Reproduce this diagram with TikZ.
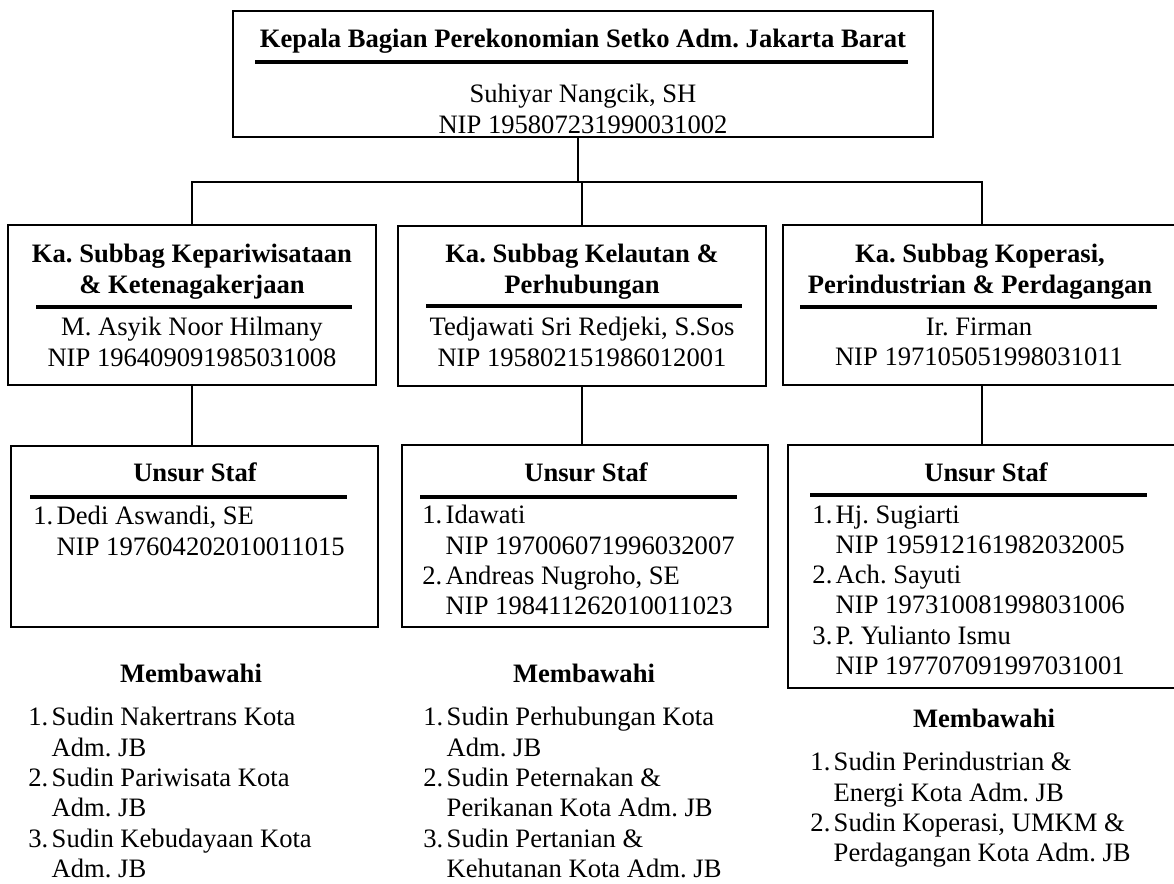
\documentclass[tikz,border=0pt]{standalone}
\usepackage{fontspec}
\setmainfont{Liberation Serif}
\usetikzlibrary{fit}
\frenchspacing
\newcommand{\teks}{\fontsize{12pt}{13.67pt}\selectfont}
\newcommand{\nomor}[1]{\makebox[10.5pt][l]{#1}}
\newcommand{\sambung}{\hspace*{10.5pt}}
\begin{document}
\begin{tikzpicture}[x=0.4511pt, y=-0.4511pt,
    kotak/.style={draw, line width=0.9pt, inner sep=0pt},
    judul/.style={font=\teks\bfseries, anchor=base},
    isi/.style={font=\teks, anchor=base},
    blok/.style={font=\teks, align=center, anchor=north, inner sep=0pt},
    blokjudul/.style={blok, font=\teks\bfseries},
    daftar/.style={font=\teks, align=left, anchor=north west, inner sep=0pt},
    garis/.style={line width=1.4pt},
    hubung/.style={line width=0.9pt}]
    \useasboundingbox (0,0) rectangle (1174,884);

    \node[kotak, fit={(233,11) (933,137)}] (kepala) {};
    \node[judul] (kepalajudul) at (583,47) {Kepala Bagian Perekonomian Setko Adm. Jakarta Barat};
    \draw[garis] (255,62) -- (908,62);
    \node[blok] (kepalanama) at (583,84) {Suhiyar Nangcik, SH\\NIP 195807231990031002};

    \node[kotak, fit={(8,225) (376,385)}] (sub1) {};
    \node[blokjudul] (sub1judul) at (192,244) {Ka. Subbag Kepariwisataan\\\& Ketenagakerjaan};
    \draw[garis] (36,307) -- (352,307);
    \node[blok] (sub1nama) at (192,317) {M. Asyik Noor Hilmany\\NIP 196409091985031008};

    \node[kotak, fit={(398,226) (766,386)}] (sub2) {};
    \node[blokjudul] (sub2judul) at (582,244) {Ka. Subbag Kelautan \&\\Perhubungan};
    \draw[garis] (426,306) -- (742,306);
    \node[blok] (sub2nama) at (582,317) {Tedjawati Sri Redjeki, S.Sos\\NIP 195802151986012001};

    \node[kotak, fit={(783,225) (1180,385)}] (sub3) {};
    \node[blokjudul] (sub3judul) at (980,244) {Ka. Subbag Koperasi,\\Perindustrian \& Perdagangan};
    \draw[garis] (800,307) -- (1157,307);
    \node[blok] (sub3nama) at (979,317) {Ir. Firman\\NIP 197105051998031011};

    \node[kotak, fit={(11,446) (378,627)}] (staf1) {};
    \node[judul] (staf1judul) at (195,481) {Unsur Staf};
    \draw[garis] (30,497) -- (347,497);
    \node[daftar] (staf1isi) at (33,506) {\nomor{1.}Dedi Aswandi, SE\\\sambung NIP 197604202010011015};

    \node[kotak, fit={(402,445) (768,627)}] (staf2) {};
    \node[judul] (staf2judul) at (586,481) {Unsur Staf};
    \draw[garis] (420,497) -- (737,497);
    \node[daftar] (staf2isi) at (422,505) {\nomor{1.}Idawati\\\sambung NIP 197006071996032007\\
        \nomor{2.}Andreas Nugroho, SE\\\sambung NIP 198411262010011023};

    \node[kotak, fit={(788,445) (1180,688)}] (staf3) {};
    \node[judul] (staf3judul) at (986,481) {Unsur Staf};
    \draw[garis] (810,495) -- (1147,495);
    \node[daftar] (staf3isi) at (812,505) {\nomor{1.}Hj. Sugiarti\\\sambung NIP 195912161982032005\\
        \nomor{2.}Ach. Sayuti\\\sambung NIP 197310081998031006\\
        \nomor{3.}P. Yulianto Ismu\\\sambung NIP 197707091997031001};

    \node[judul] (bawah1) at (191,682) {Membawahi};
    \node[daftar] (bawah1isi) at (28,707) {\nomor{1.}Sudin Nakertrans Kota\\\sambung Adm. JB\\
        \nomor{2.}Sudin Pariwisata Kota\\\sambung Adm. JB\\
        \nomor{3.}Sudin Kebudayaan Kota\\\sambung Adm. JB};

    \node[judul] (bawah2) at (584,682) {Membawahi};
    \node[daftar] (bawah2isi) at (423,707) {\nomor{1.}Sudin Perhubungan Kota\\\sambung Adm. JB\\
        \nomor{2.}Sudin Peternakan \&\\\sambung Perikanan Kota Adm. JB\\
        \nomor{3.}Sudin Pertanian \&\\\sambung Kehutanan Kota Adm. JB};

    \node[judul] (bawah3) at (984,727) {Membawahi};
    \node[daftar] (bawah3isi) at (810,752) {\nomor{1.}Sudin Perindustrian \&\\\sambung Energi Kota Adm. JB\\
        \nomor{2.}Sudin Koperasi, UMKM \&\\\sambung Perdagangan Kota Adm. JB};

    \coordinate (cabang) at (578,182);
    \draw[hubung] (kepala.south -| cabang) -- (cabang);
    \draw[hubung] (sub1.north) |- (cabang) -| (sub3.north);
    \draw[hubung] (sub2.north |- cabang) -- (sub2.north);
    \draw[hubung] (sub1.south) -- (sub1.south |- staf1.north);
    \draw[hubung] (sub2.south) -- (sub2.south |- staf2.north);
    \draw[hubung] (sub3.south) -- (sub3.south |- staf3.north);
\end{tikzpicture}
\end{document}
